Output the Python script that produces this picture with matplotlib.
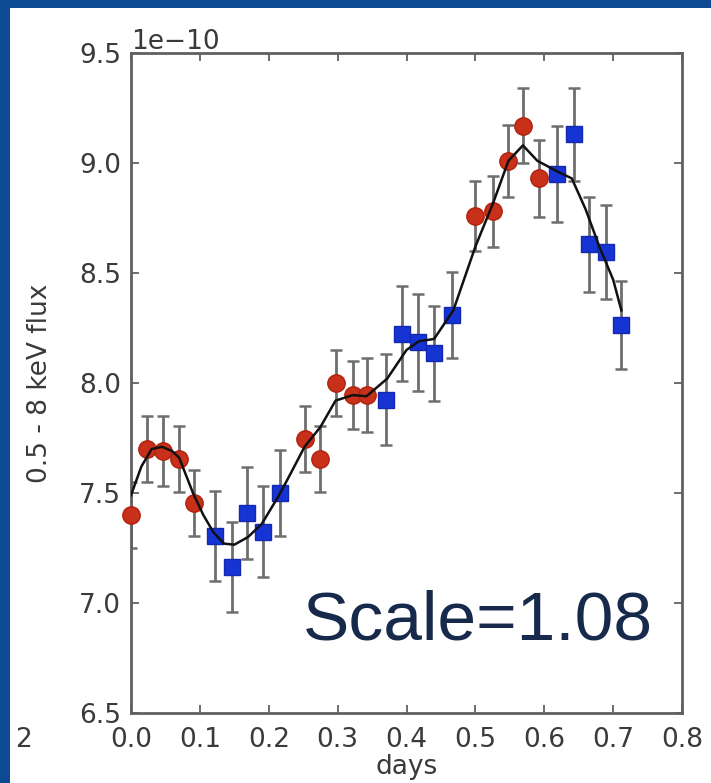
import matplotlib
matplotlib.use("Agg")
import matplotlib.pyplot as plt
from matplotlib.patches import Rectangle
import numpy as np

# red observations (days, flux in 1e-10)
red_t = [0.0, 0.023, 0.047, 0.070, 0.092, 0.252, 0.275, 0.297, 0.322, 0.342,
         0.500, 0.526, 0.548, 0.569, 0.592]
red_f = [7.40, 7.70, 7.69, 7.655, 7.455, 7.745, 7.655, 8.00, 7.945, 7.945,
         8.76, 8.78, 9.01, 9.17, 8.93]
red_e = [0.15, 0.15, 0.16, 0.15, 0.15, 0.15, 0.15, 0.15, 0.155, 0.17,
         0.16, 0.16, 0.165, 0.17, 0.175]

# blue observations
blue_t = [0.122, 0.146, 0.169, 0.192, 0.216, 0.370, 0.393, 0.417, 0.440, 0.466,
          0.618, 0.643, 0.665, 0.690, 0.712]
blue_f = [7.305, 7.165, 7.41, 7.325, 7.50, 7.925, 8.225, 8.185, 8.135, 8.31,
          8.95, 9.13, 8.63, 8.595, 8.265]
blue_e = [0.205, 0.205, 0.21, 0.205, 0.195, 0.205, 0.215, 0.22, 0.215, 0.195,
          0.22, 0.21, 0.215, 0.215, 0.20]

# model curve
model_t = [0.0, 0.015, 0.03, 0.045, 0.06, 0.07, 0.09, 0.105, 0.12, 0.135,
           0.15, 0.17, 0.19, 0.215, 0.232, 0.252, 0.275, 0.297, 0.322, 0.342,
           0.372, 0.40, 0.418, 0.44, 0.468, 0.50, 0.526, 0.548, 0.569, 0.59,
           0.62, 0.64, 0.66, 0.68, 0.70, 0.712]
model_f = [7.49, 7.62, 7.70, 7.71, 7.69, 7.66, 7.50, 7.40, 7.32, 7.27,
           7.265, 7.30, 7.36, 7.49, 7.59, 7.71, 7.80, 7.92, 7.945, 7.94,
           8.02, 8.15, 8.19, 8.20, 8.33, 8.62, 8.82, 9.01, 9.08, 9.01,
           8.96, 8.93, 8.79, 8.62, 8.47, 8.33]

scale = 1e-10

fig = plt.figure(figsize=(7.11, 7.83), dpi=100)
fig.patch.set_facecolor("#0d4a93")
fig.patches.append(Rectangle((10 / 711, 0), 1, 1 - 8 / 783, transform=fig.transFigure,
                             facecolor="white", edgecolor="none", zorder=-5))

ax = fig.add_axes([131 / 711, 1 - 713 / 783, (682 - 131) / 711, (713 - 53) / 783])
ax.set_zorder(2)

ax.errorbar(red_t, np.array(red_f) * scale, yerr=np.array(red_e) * scale, fmt="none",
            ecolor="#6e6e6e", elinewidth=2.0, capsize=4, capthick=1.8, zorder=2)
ax.errorbar(blue_t, np.array(blue_f) * scale, yerr=np.array(blue_e) * scale, fmt="none",
            ecolor="#6e6e6e", elinewidth=2.0, capsize=4, capthick=1.8, zorder=2)
ax.plot(red_t, np.array(red_f) * scale, "o", color="#c9301a", mec="#b0200f", ms=12.5,
        zorder=3, clip_on=False)
ax.plot(blue_t, np.array(blue_f) * scale, "s", color="#1634d4", mec="#1428b0", ms=11.5,
        zorder=3)
ax.plot(model_t, np.array(model_f) * scale, "-", color="#111111", lw=1.8, zorder=4)

ax.set_xlim(0, 0.8)
ax.set_ylim(6.5e-10, 9.5e-10)
ax.set_xticks(np.arange(0, 0.81, 0.1))
ax.set_yticks(np.arange(6.5, 9.51, 0.5) * scale)

for sp in ax.spines.values():
    sp.set_color("#606060")
    sp.set_linewidth(2.0)
ax.tick_params(direction="in", top=True, right=True, length=6, width=1.3,
               color="#606060", labelcolor="#3a3a3a", labelsize=19)
ax.tick_params(axis="x", pad=10)
ax.tick_params(axis="y", pad=7)
ax.yaxis.get_offset_text().set_fontsize(19)
ax.yaxis.get_offset_text().set_color("#3a3a3a")

ax.set_xlabel("days", fontsize=19, color="#3a3a3a", labelpad=1)
ax.set_ylabel("0.5 - 8 keV flux", fontsize=19, color="#3a3a3a", labelpad=19)

ax.text(0.312, 0.138, "Scale=1.08", transform=ax.transAxes,
        fontsize=50, family="Liberation Sans", color="#172a4c", va="center")

fig.text(15 / 711, 1 - 740 / 783, "2", fontsize=19, color="#3a3a3a", ha="left", va="center")

fig.savefig("out.png", dpi=100, facecolor=fig.get_facecolor())
